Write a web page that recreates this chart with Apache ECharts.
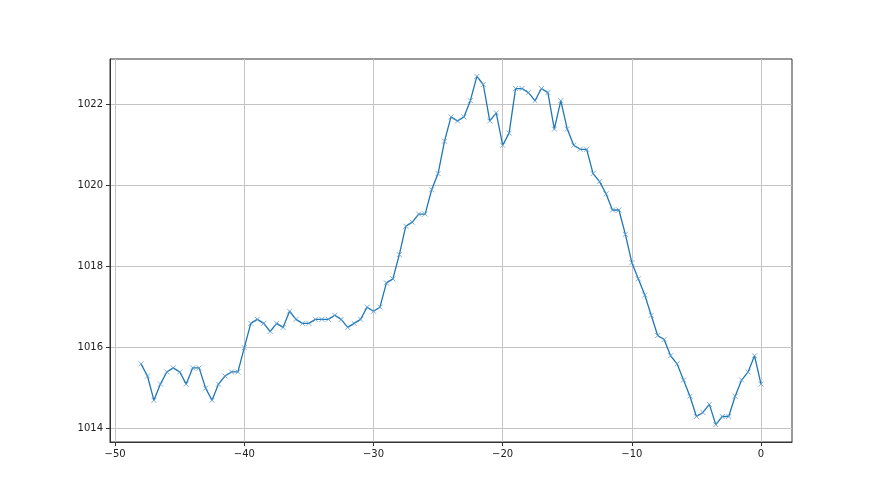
<!DOCTYPE html>
<html>
<head>
<meta charset="utf-8">
<script src="https://cdn.jsdelivr.net/npm/echarts@6/dist/echarts.min.js"></script>
<style>html,body{margin:0;padding:0;background:#fff;}#c{width:880px;height:495px;}</style>
</head>
<body>
<div id="c"></div>
<script>
const xStart = -48;
const xStep = 0.5;
const pressure = [
1015.6,1015.3,1014.7,1015.1,1015.4,1015.5,1015.4,1015.1,1015.5,1015.5,
1015.0,1014.7,1015.1,1015.3,1015.4,1015.4,1016.0,1016.6,1016.7,1016.6,
1016.4,1016.6,1016.5,1016.9,1016.7,1016.6,1016.6,1016.7,1016.7,1016.7,
1016.8,1016.7,1016.5,1016.6,1016.7,1017.0,1016.9,1017.0,1017.6,1017.7,
1018.3,1019.0,1019.1,1019.3,1019.3,1019.9,1020.3,1021.1,1021.7,1021.6,
1021.7,1022.1,1022.7,1022.5,1021.6,1021.8,1021.0,1021.3,1022.4,1022.4,
1022.3,1022.1,1022.4,1022.3,1021.4,1022.1,1021.4,1021.0,1020.9,1020.9,
1020.3,1020.1,1019.8,1019.4,1019.4,1018.8,1018.1,1017.7,1017.3,1016.8,
1016.3,1016.2,1015.8,1015.6,1015.2,1014.8,1014.3,1014.4,1014.6,1014.1,
1014.3,1014.3,1014.8,1015.2,1015.4,1015.8,1015.1
];
const xTicks = [-50,-40,-30,-20,-10,0];
const yTicks = [1014,1016,1018,1020,1022];

const data = pressure.map((v,i)=>[xStart + i*xStep, v]);
const fmt = v => String(v).replace('-', '\u2212');
const chart = echarts.init(document.getElementById('c'), null, {renderer:'canvas'});
const axisCommon = {
  axisLine:{show:true, onZero:false, lineStyle:{color:'#333', width:1}},
  axisTick:{show:true, inside:false, length:4, lineStyle:{color:'#333', width:1}},
  splitLine:{show:true, lineStyle:{color:'#c4c4c4', width:1}},
  axisLabel:{color:'#222', fontFamily:'DejaVu Sans', fontSize:10, margin:7}
};
chart.setOption({
  animation:false,
  backgroundColor:'#fff',
  grid:{left:110, right:88, top:59, bottom:53, show:true, borderColor:'#333', borderWidth:1, backgroundColor:'transparent'},
  xAxis:{type:'value', min:-50.4, max:2.4,
    axisLine:axisCommon.axisLine,
    axisTick:Object.assign({}, axisCommon.axisTick, {customValues:xTicks}),
    splitLine:axisCommon.splitLine,
    axisLabel:Object.assign({}, axisCommon.axisLabel, {customValues:xTicks, formatter:fmt, showMinLabel:true, showMaxLabel:true})},
  yAxis:{type:'value', min:1013.67, max:1023.13,
    axisLine:axisCommon.axisLine,
    axisTick:Object.assign({}, axisCommon.axisTick, {customValues:yTicks}),
    splitLine:axisCommon.splitLine,
    axisLabel:Object.assign({}, axisCommon.axisLabel, {customValues:yTicks, formatter:fmt})},
  series:[{
    type:'line', data:data,
    lineStyle:{color:'#1f77b4', width:1.3},
    symbol:'path://M0,0L10,10M10,0L0,10',
    symbolSize:5,
    showAllSymbol:true,
    itemStyle:{color:'#1f77b4', borderColor:'#5a9bd0', borderWidth:0.8},
    emphasis:{disabled:true}
  }]
});
</script>
</body>
</html>
